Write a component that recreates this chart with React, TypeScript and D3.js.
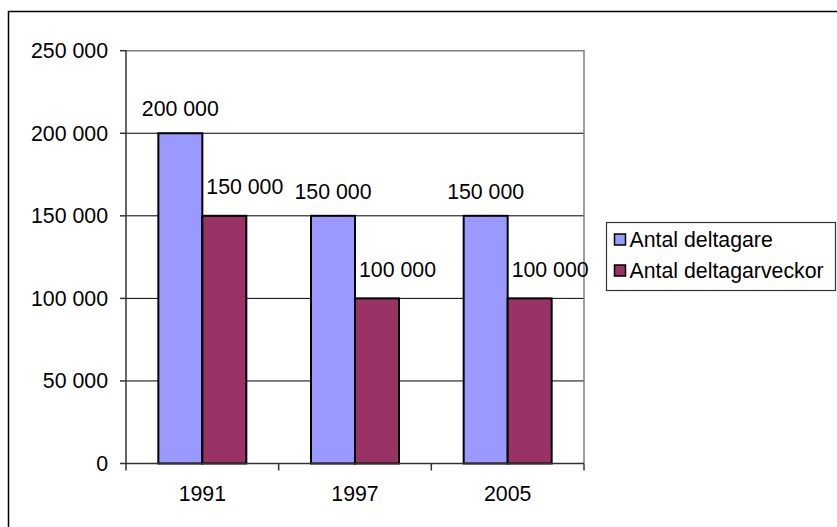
import React, { useEffect, useRef } from 'react';
import * as d3 from 'd3';

const years = ['1991', '1997', '2005'];
const seriesNames = ['Antal deltagare', 'Antal deltagarveckor'];
const deltagare = [200000, 150000, 150000];
const deltagarveckor = [150000, 100000, 100000];
const yTicks = [0, 50000, 100000, 150000, 200000, 250000];

const colors = ['#9999FF', '#993366'];

const App: React.FC = () => {
  const svgRef = useRef<SVGSVGElement>(null);

  useEffect(() => {
    if (!svgRef.current) return;
    const svg = d3.select(svgRef.current);
    svg.selectAll('*').remove();

    const font = "'Liberation Sans', Arial, sans-serif";
    const fontSize = '21.3px';
    const left = 126, right = 584, top = 50.7, bottom = 463.5;

    const fmt = d3.formatLocale({ thousands: ' ', grouping: [3], decimal: ',', currency: ['', ''] }).format(',');

    const y = d3.scaleLinear().domain([0, 250000]).range([bottom, top]);
    const x0 = d3.scaleBand<string>().domain(years).range([left, right]).paddingInner(0).paddingOuter(0);
    const x1 = d3.scaleBand<string>().domain(seriesNames).range([0, x0.bandwidth()]).paddingInner(0).paddingOuter(0.735);

    const data = years.map((yr, i) => ({ year: yr, values: [deltagare[i], deltagarveckor[i]] }));

    // chart frame (cut off at right/bottom like in the source)
    svg.append('rect')
      .attr('x', 8.5).attr('y', 11.5)
      .attr('width', 860).attr('height', 560)
      .attr('fill', 'white')
      .attr('stroke', '#000').attr('stroke-width', 1.5);

    // gridlines
    svg.append('g')
      .selectAll('line')
      .data(yTicks.filter(t => t > 0 && t < 250000))
      .join('line')
      .attr('x1', left).attr('x2', right)
      .attr('y1', d => y(d)).attr('y2', d => y(d))
      .attr('stroke', '#000').attr('stroke-width', 1);

    // plot area border top / right
    svg.append('path')
      .attr('d', `M${left},${y(250000)}H${right}V${bottom}`)
      .attr('fill', 'none')
      .attr('stroke', '#808080').attr('stroke-width', 1.5);

    // bars
    const groups = svg.append('g')
      .selectAll('g')
      .data(data)
      .join('g')
      .attr('transform', d => `translate(${x0(d.year)},0)`);

    groups.selectAll('rect')
      .data(d => d.values.map((v, i) => ({ name: seriesNames[i], value: v, i })))
      .join('rect')
      .attr('x', d => x1(d.name)!)
      .attr('y', d => y(d.value))
      .attr('width', x1.bandwidth())
      .attr('height', d => bottom - y(d.value))
      .attr('fill', d => colors[d.i])
      .attr('stroke', '#000').attr('stroke-width', 2);

    // value labels
    groups.selectAll('text')
      .data(d => d.values.map((v, i) => ({ name: seriesNames[i], value: v, i })))
      .join('text')
      .attr('x', d => d.i === 0 ? x1(d.name)! + x1.bandwidth() / 2 : x1(d.name)! + 4)
      .attr('y', d => y(d.value) - (d.i === 0 ? 17 : 21.5))
      .attr('text-anchor', d => d.i === 0 ? 'middle' : 'start')
      .style('font-family', font).style('font-size', fontSize)
      .attr('fill', '#000')
      .text(d => fmt(d.value));

    // y axis
    const yAxis = svg.append('g');
    yAxis.append('line')
      .attr('x1', left).attr('x2', left).attr('y1', top).attr('y2', bottom)
      .attr('stroke', '#333').attr('stroke-width', 1.5);
    yAxis.selectAll('line.tick')
      .data(yTicks)
      .join('line')
      .attr('class', 'tick')
      .attr('x1', left - 6).attr('x2', left)
      .attr('y1', d => y(d)).attr('y2', d => y(d))
      .attr('stroke', '#333').attr('stroke-width', 1.5);
    yAxis.selectAll('text')
      .data(yTicks)
      .join('text')
      .attr('x', 108)
      .attr('y', d => y(d))
      .attr('dy', '0.35em')
      .attr('text-anchor', 'end')
      .style('font-family', font).style('font-size', fontSize)
      .text(d => fmt(d));

    // x axis
    const xAxis = svg.append('g');
    xAxis.append('line')
      .attr('x1', left).attr('x2', right).attr('y1', bottom).attr('y2', bottom)
      .attr('stroke', '#333').attr('stroke-width', 1.5);
    const bounds = [...years.map(yr => x0(yr)!), right];
    xAxis.selectAll('line.tick')
      .data(bounds)
      .join('line')
      .attr('class', 'tick')
      .attr('x1', d => d).attr('x2', d => d)
      .attr('y1', bottom).attr('y2', bottom + 7)
      .attr('stroke', '#333').attr('stroke-width', 1.5);
    xAxis.selectAll('text')
      .data(years)
      .join('text')
      .attr('x', d => x0(d)! + x0.bandwidth() / 2)
      .attr('y', 500.5)
      .attr('text-anchor', 'middle')
      .style('font-family', font).style('font-size', fontSize)
      .text(d => d);

    // legend
    const legend = svg.append('g').attr('transform', 'translate(606.5,222.5)');
    legend.append('rect')
      .attr('width', 229).attr('height', 68)
      .attr('fill', 'white')
      .attr('stroke', '#333').attr('stroke-width', 1.2);
    const items = legend.selectAll('g')
      .data(seriesNames)
      .join('g')
      .attr('transform', (d, i) => `translate(0,${17 + i * 31})`);
    items.append('rect')
      .attr('x', 8).attr('y', -5.5)
      .attr('width', 11).attr('height', 11)
      .attr('fill', (d, i) => colors[i])
      .attr('stroke', '#000').attr('stroke-width', 1.5);
    items.append('text')
      .attr('x', 23)
      .attr('dy', '0.35em')
      .style('font-family', font).style('font-size', fontSize)
      .text(d => d);
  }, []);

  return (
    <svg
      ref={svgRef}
      width={837}
      height={527}
      style={{ position: 'absolute', left: 0, top: 0, background: 'white' }}
    />
  );
};

export default App;
